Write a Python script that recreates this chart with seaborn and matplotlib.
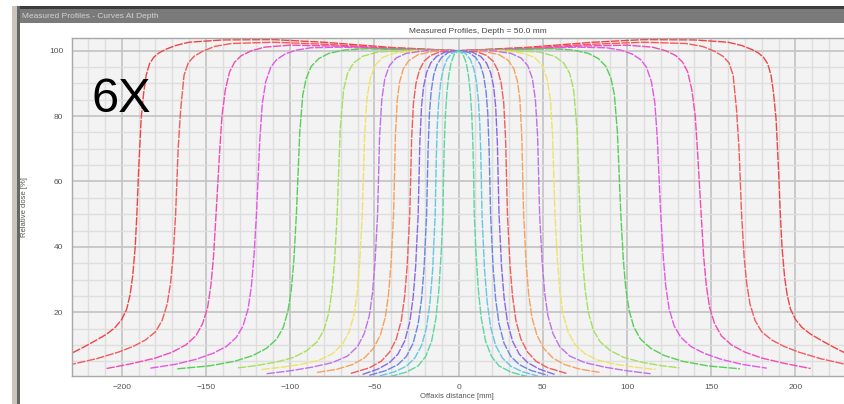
import numpy as np
import pandas as pd
import matplotlib
matplotlib.use("Agg")
import matplotlib.pyplot as plt
from matplotlib.ticker import MultipleLocator
from matplotlib.patches import Rectangle
import seaborn as sns

# Measured half-profiles (positive off-axis side, mm) for each square field size (cm).
x_40 = [0, 40, 80, 110, 140, 160, 168, 174, 178, 181, 183.5, 185.5, 187, 188.5, 190, 191,
        192, 193.5, 195, 197, 200, 204, 209, 215, 222, 230, 240]
dose_40 = [100, 101.0, 102.6, 103.4, 103.3, 102.6, 101.6, 100.4, 99.3, 98.0, 96.0, 92.5, 87,
           79, 63, 50, 40, 31, 25.5, 21, 17.8, 15.3, 13.3, 11.5, 9.5, 7.4, 5.8]

x_35 = [0, 40, 80, 110, 135, 145, 152, 157, 160.5, 163, 165, 166.5, 168, 169.5, 171, 173,
        176, 180, 186, 193, 202, 215, 232]
dose_35 = [100, 100.8, 102.0, 102.6, 102.2, 101.3, 99.8, 98.3, 96.3, 92.5, 82, 70, 50, 37,
           29, 22.5, 17.5, 14, 11.5, 9.6, 7.8, 5.8, 3.8]

x_30 = [0, 40, 70, 100, 115, 123, 129, 133, 136, 138.5, 140.5, 142, 144, 145.5, 147, 149,
        152, 156, 162, 170, 180, 194, 209]
dose_30 = [100, 100.6, 101.4, 101.7, 101.1, 100.0, 98.5, 96.5, 93.5, 88, 80, 68, 50, 37,
           28.5, 21.5, 16.5, 12.8, 10, 7.8, 6.0, 4.3, 2.8]

x_25 = [0, 40, 70, 88, 97, 103, 108, 111.5, 114.5, 116.5, 118, 120, 121.5, 123, 125, 128,
        132, 138, 146, 156, 168, 183]
dose_25 = [100, 100.5, 101.1, 100.9, 100.1, 99.0, 97.3, 95, 90.5, 84, 73, 50, 37, 28, 21,
           15.8, 12.3, 9.5, 7.4, 5.6, 4.1, 2.9]

x_20 = [0, 30, 55, 68, 77, 83, 87.5, 90.5, 92.5, 94.3, 96.3, 97.8, 99.3, 101.3, 104, 108,
        114, 122, 133, 148, 167]
dose_20 = [100, 100.3, 100.6, 100.2, 99.2, 97.6, 95.2, 91.5, 86.5, 75, 50, 36, 27, 20.5,
           15.5, 11.8, 9, 6.8, 5.0, 3.6, 2.7]

x_15 = [0, 30, 48, 57, 62.5, 66, 68.3, 70.3, 72.1, 73.6, 75.1, 77, 80, 84, 90, 98, 108, 120, 131]
dose_15 = [100, 100.1, 99.6, 98.3, 96.2, 93, 88, 76, 50, 36, 27, 20, 14.5, 11, 8.3, 6.2,
           4.8, 3.7, 3.0]

x_12 = [0, 25, 38, 45, 49.5, 52.5, 54.5, 55.8, 57.2, 58.7, 60.2, 62, 65, 69, 75, 83, 93, 105, 117]
dose_12 = [100, 100, 99.3, 98, 95.6, 91.5, 85, 74, 50, 35.5, 26, 19.5, 14, 10.2, 7.3, 5.3,
           4.1, 3.2, 2.5]

x_10 = [0, 20, 31, 37, 41, 43.8, 45.6, 46.9, 48.1, 49.6, 51.1, 53, 56, 60, 66, 75, 87, 100, 114]
dose_10 = [100, 100, 99.2, 97.8, 95.5, 91.5, 85, 74, 50, 35.5, 26, 19, 13.5, 9.5, 6.6, 4.6,
           3.2, 2.1, 1.2]

x_8 = [0, 15, 24, 29.5, 32.8, 35, 36.4, 37.5, 38.6, 40.1, 41.6, 43.5, 46.5, 50.5, 56, 63, 72, 84]
dose_8 = [100, 99.8, 98.8, 97, 94.5, 90.5, 85, 74, 50, 35, 25.5, 18.5, 13, 9, 6, 4, 2.6, 1.6]

x_6 = [0, 10, 16.5, 20.5, 23.3, 25.3, 26.8, 27.9, 29, 30.5, 32, 34, 37, 41, 46, 53, 64]
dose_6 = [100, 99.8, 98.6, 96.8, 94, 90, 84, 73, 50, 34.5, 25, 17.5, 11.8, 7.8, 5, 3, 1.3]

x_5 = [0, 8, 13, 16.5, 19, 20.8, 22, 23, 24, 25.5, 27, 29, 32, 36, 41, 48, 57]
dose_5 = [100, 99.6, 98.3, 96.3, 93.3, 89, 83, 72, 50, 34, 24.5, 17, 11.2, 7.2, 4.6, 2.6, 1.0]

x_4 = [0, 6, 10, 12.8, 14.8, 16.3, 17.3, 18.1, 19, 20.5, 22, 24, 27, 31, 36, 43, 53]
dose_4 = [100, 99.5, 98, 95.8, 92.5, 87.5, 81, 70, 50, 33.5, 24, 16.5, 10.5, 6.5, 4, 2.2, 0.7]

x_3 = [0, 4, 7, 9, 10.6, 11.8, 12.6, 13.2, 13.9, 15.4, 17, 19, 22, 26, 31, 38, 47]
dose_3 = [100, 99.2, 97.3, 94.5, 90.5, 84.5, 77.5, 68, 50, 33, 23, 15.5, 9.8, 6, 3.5, 1.8, 0.5]

x_2 = [0, 2.5, 4.5, 5.8, 6.9, 7.8, 8.4, 8.9, 9.3, 10.3, 11.7, 13.5, 16, 19.5, 24, 31, 41]
dose_2 = [100, 99, 96.3, 92.5, 87.5, 80.5, 73, 63, 50, 38.5, 27, 18, 11.2, 6.5, 3.6, 1.7, 0.3]

fields = ["40", "35", "30", "25", "20", "15", "12", "10", "8", "6", "5", "4", "3", "2"]
half_x = [x_40, x_35, x_30, x_25, x_20, x_15, x_12, x_10, x_8, x_6, x_5, x_4, x_3, x_2]
half_dose = [dose_40, dose_35, dose_30, dose_25, dose_20, dose_15, dose_12, dose_10,
             dose_8, dose_6, dose_5, dose_4, dose_3, dose_2]
colors = ["#f04444", "#f45a5a", "#f04cb4", "#e656e8", "#55cf55", "#a6df5c", "#efe26a",
          "#c070e8", "#f8a05e", "#f25c5c", "#8868e6", "#6886e6", "#62c8e6", "#5cd6a2"]

xticks = [-200, -150, -100, -50, 0, 50, 100, 150, 200]
yticks = [20, 40, 60, 80, 100]

# Full symmetric profiles from the measured half scans
rows = []
for f, hx, hd in zip(fields, half_x, half_dose):
    hx = np.asarray(hx, float)
    hd = np.asarray(hd, float)
    xs = np.concatenate([-hx[:0:-1], hx])
    ds = np.concatenate([hd[:0:-1], hd])
    rows.append(pd.DataFrame({"x": xs, "dose": ds, "field": f}))
df = pd.concat(rows, ignore_index=True)

sns.set_style("white")
plt.rcParams["font.family"] = ["Liberation Sans", "DejaVu Sans"]

W, H = 844, 404
fig = plt.figure(figsize=(W / 100, H / 100), dpi=100)
fig.patch.set_facecolor("white")

def px_rect(x0, y0, x1, y1, color):
    fig.patches.append(Rectangle((x0 / W, 1 - y1 / H), (x1 - x0) / W, (y1 - y0) / H,
                                 transform=fig.transFigure, facecolor=color,
                                 edgecolor="none", zorder=0))

# window frame
px_rect(12, 6, W, 9.5, "#3c3c3c")
px_rect(19, 9.5, W, 23, "#7a7a7a")
px_rect(12, 6, 17, H, "#cbc4ba")
px_rect(17, 6, 19.5, H, "#666666")
fig.text(22 / W, 1 - 16.5 / H, "Measured Profiles - Curves At Depth", fontsize=6,
         color="#d4d4d4", va="center", ha="left")

left, right, top, bottom = 71.7, 845.5, 38.3, 375.7
ax = fig.add_axes([left / W, 1 - bottom / H, (right - left) / W, (bottom - top) / H])
ax.set_facecolor("#f3f3f3")

sns.lineplot(data=df, x="x", y="dose", hue="field", palette=colors, hue_order=fields,
             estimator=None, sort=False, legend=False, linewidth=1.0, ax=ax)
for line in ax.lines:
    line.set_dashes([6, 1])
    line.set_dash_capstyle("butt")
    line.set_solid_joinstyle("round")

ax.set_xlim(-229.7, 229.7)
ax.set_ylim(0.6, 103.8)
ax.set_xticks(xticks)
ax.set_yticks(yticks)
ax.xaxis.set_minor_locator(MultipleLocator(10))
ax.yaxis.set_minor_locator(MultipleLocator(5))
ax.set_axisbelow(True)
ax.grid(which="major", color="#c6c6c6", linewidth=1.3)
ax.grid(which="minor", color="#dedede", linewidth=1.0)
ax.tick_params(which="major", length=3, width=0.8, color="#9a9a9a", labelsize=6,
               labelcolor="#555555", pad=3)
ax.tick_params(which="minor", length=0)
for s in ax.spines.values():
    s.set_color("#a8a8a8")
    s.set_linewidth(1.0)
ax.set_xlabel("")
ax.set_ylabel("")

fig.text(478 / W, 1 - 31.5 / H, "Measured Profiles, Depth = 50.0 mm", fontsize=6,
         color="#444444", ha="center", va="center")
fig.text(457 / W, 1 - 396.5 / H, "Offaxis distance [mm]", fontsize=5.5,
         color="#555555", ha="center", va="center")
fig.text(25 / W, 1 - 207 / H, "Relative dose [%]", fontsize=5.5, color="#555555",
         ha="center", va="center", rotation=90)
fig.text(92 / W, 1 - 112 / H, "6X", fontsize=35, color="black", ha="left",
         va="baseline")

fig.savefig("out.png", dpi=100)
